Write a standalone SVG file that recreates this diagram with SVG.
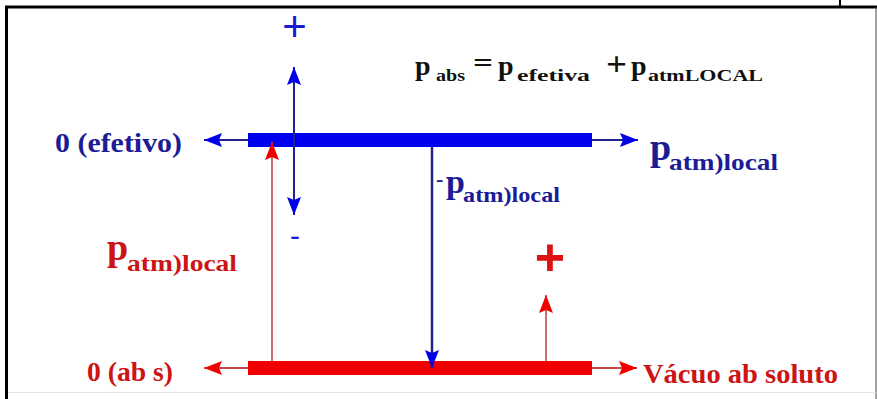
<svg xmlns="http://www.w3.org/2000/svg" width="877" height="399" viewBox="0 0 877 399">
  <defs>
    <marker id="headBlue" markerUnits="userSpaceOnUse" markerWidth="18" markerHeight="14" refX="18" refY="7" orient="auto" viewBox="0 0 18 14">
      <path d="M0,0 L18,7 L0,14 L3,7 Z" fill="#0000e6"/>
    </marker>
    <marker id="headRed" markerUnits="userSpaceOnUse" markerWidth="18" markerHeight="14" refX="18" refY="7" orient="auto" viewBox="0 0 18 14">
      <path d="M0,0 L18,7 L0,14 L3,7 Z" fill="#ee0000"/>
    </marker>
    <style>
      .lbl { font-family: "Liberation Serif", "Times New Roman", serif; font-weight: bold; }
      .blue { fill: #1c1c96; }
      .red { fill: #cc1414; }
      .blk { fill: #111111; }
      .sign { font-family: "Liberation Sans", Arial, sans-serif; text-anchor: middle; }
      .bl { stroke: #22228c; fill: none; }
      .rl { stroke: #c44a4a; fill: none; }
    </style>
  </defs>
  <rect width="877" height="399" fill="#ffffff"/>

  <g id="frame" fill="none">
    <line x1="5" y1="7" x2="877" y2="7" stroke="#000" stroke-width="3"/>
    <line x1="6.5" y1="7" x2="6.5" y2="399" stroke="#000" stroke-width="3"/>
    <line x1="876" y1="7" x2="876" y2="399" stroke="#444" stroke-width="1"/>
    <line x1="840" y1="0" x2="840" y2="7" stroke="#000" stroke-width="2"/>
    <line x1="8" y1="392.5" x2="876" y2="392.5" stroke="#e2e2e2" stroke-width="1"/>
  </g>

  <g id="gauge-zero-bar">
    <rect x="248" y="133" width="344" height="14" fill="#0000f0"/>
  </g>
  <g id="absolute-zero-bar">
    <rect x="248" y="361" width="344" height="14" fill="#f00000"/>
  </g>

  <g id="connectors">
    <line class="bl" x1="248" y1="140" x2="204" y2="140" stroke-width="2" marker-end="url(#headBlue)"/>
    <line class="bl" x1="592" y1="140" x2="638" y2="140" stroke-width="2" marker-end="url(#headBlue)"/>
    <line class="bl" x1="294" y1="140" x2="294" y2="67" stroke-width="2" marker-end="url(#headBlue)"/>
    <line class="bl" x1="294" y1="140" x2="294" y2="215" stroke-width="2" marker-end="url(#headBlue)"/>
    <line class="bl" x1="432" y1="147" x2="432" y2="368" stroke-width="2.5" marker-end="url(#headBlue)"/>
    <line class="rl" x1="248" y1="368" x2="204" y2="368" stroke-width="2" marker-end="url(#headRed)"/>
    <line class="rl" x1="592" y1="368" x2="637" y2="368" stroke-width="2" marker-end="url(#headRed)"/>
    <line class="rl" x1="272" y1="361" x2="272" y2="142" stroke-width="1.6" marker-end="url(#headRed)"/>
    <line class="rl" x1="546" y1="361" x2="546" y2="295" stroke-width="1.6" marker-end="url(#headRed)"/>
  </g>

  <g id="equation" class="lbl blk">
    <text x="415" y="75" font-size="28">p</text>
    <text x="436" y="81" font-size="16" textLength="29" lengthAdjust="spacingAndGlyphs">abs</text>
    <text x="473" y="72" font-size="28" textLength="20" lengthAdjust="spacingAndGlyphs">=</text>
    <text x="498" y="75" font-size="28">p</text>
    <text x="517" y="81" font-size="16" textLength="73" lengthAdjust="spacingAndGlyphs">efetiva</text>
    <text x="606" y="75" font-size="34" textLength="21" lengthAdjust="spacingAndGlyphs">+</text>
    <text x="631" y="75" font-size="28">p</text>
    <text x="648" y="81" font-size="17" textLength="115" lengthAdjust="spacingAndGlyphs">atmLOCAL</text>
  </g>

  <g id="label-efetivo">
    <text class="lbl blue" x="55" y="152" font-size="28" textLength="127" lengthAdjust="spacingAndGlyphs">0 (efetivo)</text>
  </g>
  <g id="label-abs">
    <text class="lbl red" x="87" y="381" font-size="28" textLength="86" lengthAdjust="spacingAndGlyphs">0 (ab s)</text>
  </g>
  <g id="label-vacuo">
    <text class="lbl red" x="643" y="383" font-size="28" textLength="195" lengthAdjust="spacingAndGlyphs">Vácuo ab soluto</text>
  </g>

  <g id="label-patm-right">
    <text class="lbl blue" x="650" y="160" font-size="38">p</text>
    <text class="lbl blue" x="669" y="170" font-size="24" textLength="109" lengthAdjust="spacingAndGlyphs">atm)local</text>
  </g>
  <g id="label-minus-patm">
    <text class="lbl blue" x="436" y="186" font-size="22">-</text>
    <text class="lbl blue" x="446" y="193" font-size="34">p</text>
    <text class="lbl blue" x="463" y="202" font-size="22" textLength="97" lengthAdjust="spacingAndGlyphs">atm)local</text>
  </g>
  <g id="label-patm-left">
    <text class="lbl red" x="107" y="260" font-size="38">p</text>
    <text class="lbl red" x="127" y="271" font-size="24" textLength="110" lengthAdjust="spacingAndGlyphs">atm)local</text>
  </g>

  <g id="signs">
    <text class="sign" x="294.5" y="41" font-size="42" fill="#1a1ad0">+</text>
    <text class="sign" x="295" y="246" font-size="30" fill="#1a1ad0">-</text>
    <text class="sign" x="550" y="275" font-size="52" fill="#dd1111" font-weight="bold">+</text>
  </g>
</svg>
